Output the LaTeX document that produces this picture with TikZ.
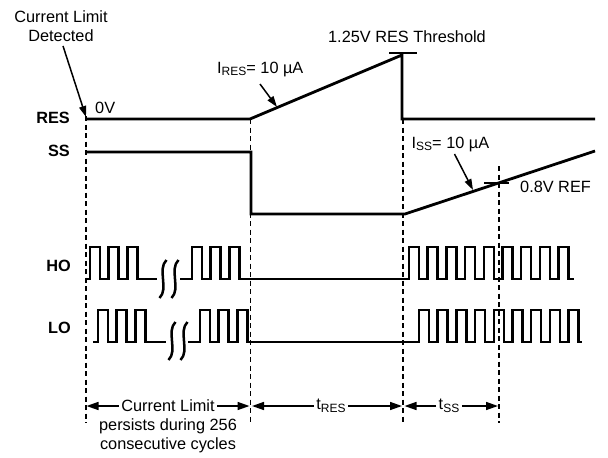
\documentclass[tikz,border=0pt]{standalone}
\usepackage{fontspec}
\setmainfont{Liberation Sans}
\usetikzlibrary{arrows.meta}
\newcommand{\mysub}[1]{\raisebox{-2.5pt}{\fontsize{12}{12}\selectfont #1}}
\begin{document}
\begin{tikzpicture}[x=1pt,y=-1pt,
  font=\fontsize{16.3}{19.5}\selectfont,
  wave/.style={line width=2.8pt, line join=miter},
  pulse/.style={line width=2.5pt, line join=miter},
  flat/.style={line width=2.7pt},
  guide/.style={line width=1.3pt, dash pattern=on 5pt off 3.5pt},
  tick/.style={line width=1.6pt},
  lbl/.style={inner sep=0pt},
  sig/.style={font=\fontsize{16.3}{19.5}\selectfont\bfseries, anchor=east, inner sep=0pt},
  ptr/.style={line width=1.5pt, -{Triangle[length=11pt,width=7pt]}},
  dim/.style={line width=1.5pt, -{Triangle[length=12pt,width=8pt]}},
  dimlbl/.style={inner sep=2.5pt},
]
\useasboundingbox (0,0) rectangle (608,458);

% signal labels
\node[sig] (lres) at (70,118) {RES};
\node[sig] (lss) at (70,151) {SS};
\node[sig] (lho) at (71,266) {HO};
\node[sig] (llo) at (71,328) {LO};

% guide lines
\coordinate (g1t) at (86,116);  \coordinate (g1b) at (86,423);
\coordinate (g2t) at (250.5,119); \coordinate (g2b) at (250.5,423);
\coordinate (g3t) at (403,119); \coordinate (g3b) at (403,423);
\coordinate (g4t) at (499,166); \coordinate (g4b) at (499,423);
\draw[guide] (g1t) -- (g1b);
\draw[guide] (g2t) -- (g2b);
\draw[guide] (g3t) -- (g3b);
\draw[guide] (g4t) -- (g4b);

% RES waveform
\coordinate (r0) at (86,119);
\coordinate (r1) at (250,119);
\coordinate (r2) at (402,55);
\coordinate (r3) at (402,119);
\coordinate (r4) at (595,119);
\draw[wave] (r0) -- (r1) -- (r2) -- (r3) -- (r4);
\coordinate (th0) at (389,53);
\coordinate (th1) at (417,53);
\draw[tick] (th0) -- (th1);

% SS waveform
\coordinate (s0) at (86,152);
\coordinate (s1) at (251,152);
\coordinate (s2) at (251,214);
\coordinate (s3) at (405,214);
\coordinate (s4) at (595,151);
\draw[wave] (s0) -- (s1) -- (s2) -- (s3) -- (s4);
\coordinate (rf0) at (484,183);
\coordinate (rf1) at (509,183);
\draw[tick] (rf0) -- (rf1);

% HO waveform
\draw[pulse] (85,279) \foreach \k in {0,1,2} { -- ({90+18.7*\k},279) -- ++(0,-32) -- ++(10,0) -- ++(0,32) } -- (157,279);
\draw[pulse] (180,279) \foreach \k in {0,1,2} { -- ({192+18.7*\k},279) -- ++(0,-32) -- ++(10,0) -- ++(0,32) } -- (240,279);
\draw[flat] (239,279) -- (410,279);
\draw[pulse] (409,279) \foreach \k in {0,...,8} { -- ({409+18.7*\k},279) -- ++(0,-32) -- ++(10,0) -- ++(0,32) } -- (574,279);
\foreach \x in {163,175} {
  \draw[pulse] (\x+3.5,260) .. controls (\x-6,269) and (\x+6,289) .. (\x-3.5,298);
}

% LO waveform
\draw[pulse] (93,342) \foreach \k in {0,1,2} { -- ({98+18.7*\k},342) -- ++(0,-32) -- ++(10,0) -- ++(0,32) } -- (166,342);
\draw[pulse] (188,342) \foreach \k in {0,1,2} { -- ({200+18.7*\k},342) -- ++(0,-32) -- ++(10,0) -- ++(0,32) } -- (248,342);
\draw[flat] (247,342) -- (420,342);
\draw[pulse] (419,342) \foreach \k in {0,...,8} { -- ({419+18.7*\k},342) -- ++(0,-32) -- ++(10,0) -- ++(0,32) } -- (582,342);
\foreach \x in {172,184} {
  \draw[pulse] (\x+3.5,322) .. controls (\x-6,331) and (\x+6,351) .. (\x-3.5,360);
}

% annotations
\node[lbl, align=center] (cld) at (61,26) {Current Limit\\Detected};
\coordinate (cldtip) at (86,117);
\draw[ptr] ([xshift=2pt,yshift=-4pt]cld.south) -- (cldtip);
\node[lbl, anchor=west] (zv) at (95,108) {0V};

\node[lbl, anchor=base west] (ires) at (217,73) {I\mysub{RES}= 10 µA};
\coordinate (irestip) at (277,107);
\draw[ptr] ([xshift=43pt,yshift=-11pt]ires.base west) -- (irestip);

\node[lbl] (thr) at (407,37) {1.25V RES Threshold};

\node[lbl, anchor=base west] (iss) at (411.5,148) {I\mysub{SS}= 10 µA};
\coordinate (isstip) at (473,190);
\draw[ptr] ([xshift=43pt,yshift=-6pt]iss.base west) -- (isstip);

\node[lbl, anchor=west] (vref) at (520,187) {0.8V REF};

% dimension arrows
\node[dimlbl] (dcl) at (168,406) {Current Limit};
\node[lbl, align=center] (dcl2) at (168,436) {persists during 256\\consecutive cycles};
\coordinate (d1l) at (86.5,406);
\coordinate (d1r) at (249.5,406);
\draw[dim] (dcl.west) -- (d1l);
\draw[dim] (dcl.east) -- (d1r);

\node[dimlbl] (dres) at (331,406) {t\mysub{RES}};
\coordinate (d2l) at (252,406);
\coordinate (d2r) at (402,406);
\draw[dim] (dres.west) -- (d2l);
\draw[dim] (dres.east) -- (d2r);

\node[dimlbl] (dss) at (449,406) {t\mysub{SS}};
\coordinate (d3l) at (404.5,406);
\coordinate (d3r) at (498,406);
\draw[dim] (dss.west) -- (d3l);
\draw[dim] (dss.east) -- (d3r);
\end{tikzpicture}
\end{document}
